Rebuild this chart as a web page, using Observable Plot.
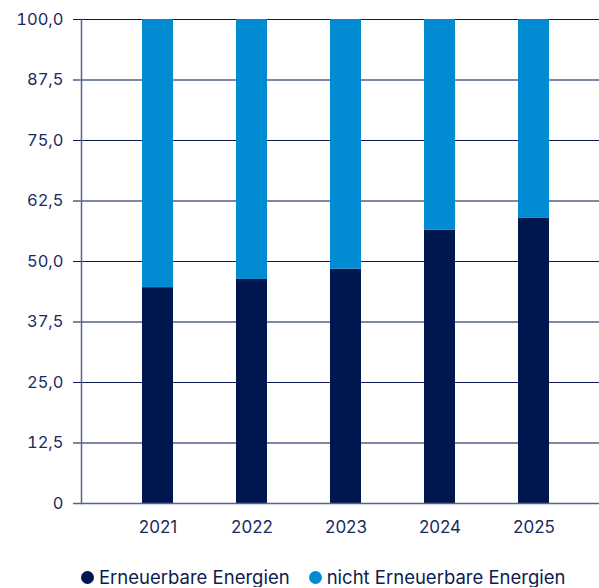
<!DOCTYPE html>
<html>
<head>
<meta charset="utf-8">
<script src="https://cdn.jsdelivr.net/npm/d3@7"></script>
<script src="https://cdn.jsdelivr.net/npm/@observablehq/plot@0.6"></script>
<style>
  html, body { margin: 0; padding: 0; background: #fff; }
  body { width: 599px; font-family: Inter, "Open Sans", sans-serif; }
  #legend { display: flex; justify-content: flex-start; gap: 19px; padding-top: 18px; padding-left: 81px; font-size: 18.5px; line-height: 1; color: #0d1b4f; white-space: nowrap; }
  #legend span.item { display: inline-flex; align-items: center; }
  #legend span.dot { width: 13px; height: 13px; border-radius: 50%; display: inline-block; margin-right: 5px; }
</style>
</head>
<body>
<div id="chart"></div>
<div id="legend"></div>
<script>
const years = ["2021", "2022", "2023", "2024", "2025"];
const series = ["Erneuerbare Energien", "nicht Erneuerbare Energien"];
const renewable = [44.6, 46.3, 48.4, 56.5, 59.0];
const nonRenewable = renewable.map(v => 100 - v);
const colors = ["#00164f", "#008bd3"];
const yTicks = [0, 12.5, 25, 37.5, 50, 62.5, 75, 87.5, 100];
const darkTicks = [25, 50, 75, 100];
const grayTicks = [12.5, 37.5, 62.5, 87.5];

const data = [];
years.forEach((y, i) => {
  data.push({year: y, series: series[0], value: renewable[i]});
  data.push({year: y, series: series[1], value: nonRenewable[i]});
});

const fmt = d => d === 0 ? "0" : d.toFixed(1).replace(".", ",");
const navy = "#0f1a50";
const gray = "#7d87a8";
const axisCol = "#56648f";
const textCol = "#1b2a5e";

const chart = Plot.plot({
  width: 599,
  height: 550,
  marginLeft: 81,
  marginRight: 0,
  marginTop: 19,
  marginBottom: 47,
  style: {fontFamily: "Inter, 'Open Sans', sans-serif", fontSize: "16px", color: textCol, background: "#fff"},
  x: {type: "band", domain: years, range: [81, 610], paddingInner: 0.672, paddingOuter: 0.635, label: null},
  y: {domain: [0, 100], label: null},
  color: {domain: series, range: colors},
  marks: [
    Plot.ruleY(grayTicks, {stroke: gray, strokeWidth: 2}),
    Plot.ruleY(darkTicks, {stroke: navy, strokeWidth: 1}),
    Plot.barY(data, Plot.stackY({x: "year", y: "value", fill: "series"})),
    Plot.ruleY([0], {stroke: axisCol, strokeWidth: 1.5}),
    Plot.frame({anchor: "left", stroke: axisCol, strokeWidth: 1.5}),
    Plot.axisY(grayTicks, {tickSize: 8, tickPadding: 10, stroke: gray, strokeWidth: 2, tickFormat: fmt, fontSize: 16.5, label: null}),
    Plot.axisY(darkTicks, {tickSize: 8, tickPadding: 10, stroke: navy, tickFormat: fmt, fontSize: 16.5, label: null}),
    Plot.axisY([0], {tickSize: 8, tickPadding: 10, stroke: axisCol, strokeWidth: 1.5, tickFormat: fmt, fontSize: 16.5, label: null}),
    Plot.axisX({tickSize: 0, tickPadding: 17, fontSize: 17, label: null})
  ]
});
document.getElementById("chart").appendChild(chart);

const legend = document.getElementById("legend");
series.forEach((s, i) => {
  const item = document.createElement("span");
  item.className = "item";
  const dot = document.createElement("span");
  dot.className = "dot";
  dot.style.background = colors[i];
  item.appendChild(dot);
  item.appendChild(document.createTextNode(s));
  legend.appendChild(item);
});
</script>
</body>
</html>
